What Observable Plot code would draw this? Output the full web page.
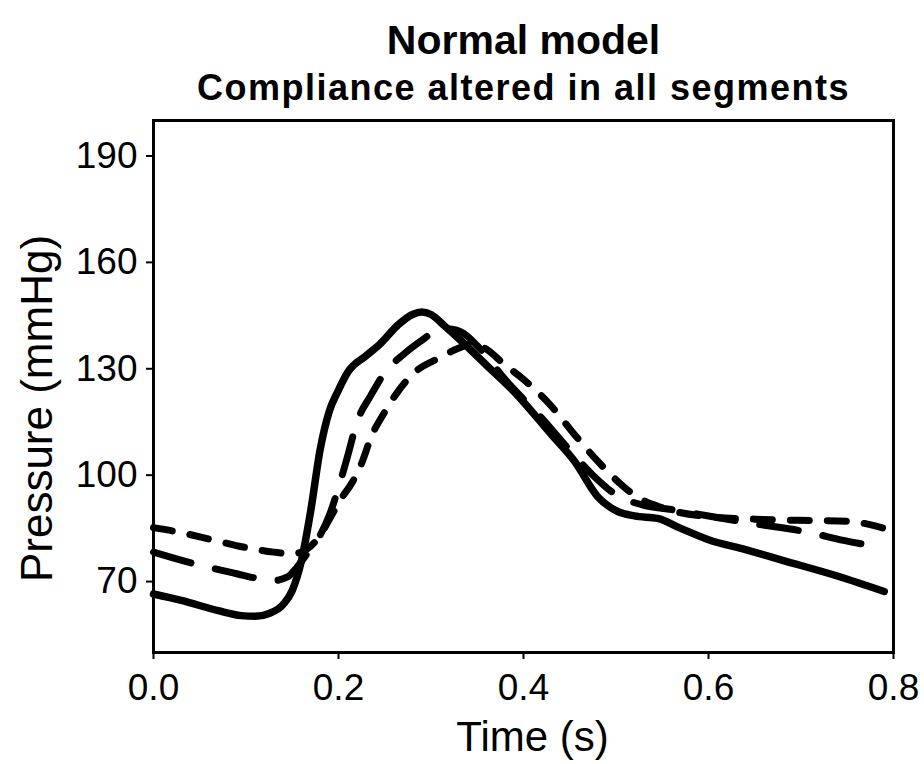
<!DOCTYPE html>
<html><head><meta charset="utf-8">
<script src="https://cdn.jsdelivr.net/npm/d3@7"></script>
<script src="https://cdn.jsdelivr.net/npm/@observablehq/plot@0.6"></script>
<style>body{margin:0;background:#fff;} #chart svg{display:block;}</style>
</head><body><div id="chart"></div>
<script>
const title = "Normal model";
const subtitle = "Compliance altered in all segments";
const xLabel = "Time (s)";
const yLabel = "Pressure (mmHg)";
const xTicks = [0, 0.2, 0.4, 0.6, 0.8];
const yTicks = [70, 100, 130, 160, 190];

// Solid line
const solidT = [0, 0.03, 0.07, 0.095, 0.11, 0.125, 0.14, 0.15, 0.16, 0.17, 0.18, 0.19, 0.2, 0.21, 0.23, 0.245, 0.265, 0.28, 0.29, 0.3, 0.315, 0.33, 0.36, 0.39, 0.43, 0.455, 0.48, 0.5, 0.52, 0.545, 0.57, 0.6, 0.64, 0.68, 0.74, 0.79];
const solidP = [66.5, 64.7, 61.8, 60.4, 60.2, 61.0, 63.5, 67.5, 76, 90, 107, 118, 124, 129, 133.7, 137, 142.5, 145.3, 146, 145.3, 142, 138.5, 131, 123.5, 111.5, 104, 94, 90, 88.5, 87.8, 85, 81.8, 79, 76, 71.5, 67.2];

// Long-dashed line
const longT = [0, 0.043, 0.065, 0.09, 0.112, 0.13, 0.145, 0.155, 0.165, 0.18, 0.19, 0.2, 0.21, 0.22, 0.235, 0.25, 0.27, 0.29, 0.307, 0.32, 0.335, 0.35, 0.38, 0.42, 0.45, 0.475, 0.5, 0.53, 0.56, 0.6, 0.65, 0.71, 0.746, 0.79];
const longP = [78.3, 75.1, 73.7, 72.2, 70.9, 70.3, 71.3, 74, 77.5, 83, 88.6, 96.5, 105.5, 115, 122.5, 128.9, 134, 138, 140.8, 141.2, 140, 136.5, 127, 116, 107, 100, 94.5, 91.5, 90.3, 88.5, 86.3, 83.8, 81.6, 79.6];

// Short-dashed line
const shortT = [0, 0.03, 0.06, 0.1, 0.13, 0.15, 0.165, 0.18, 0.19, 0.202, 0.216, 0.226, 0.235, 0.249, 0.264, 0.281, 0.31, 0.329, 0.345, 0.36, 0.378, 0.4, 0.43, 0.455, 0.48, 0.505, 0.525, 0.55, 0.6, 0.65, 0.71, 0.75, 0.79];
const shortP = [85.2, 83.8, 82.0, 79.6, 78.3, 77.8, 79, 83, 87.5, 93, 98.5, 104, 110.6, 117.4, 123.5, 128.7, 133.2, 135.7, 137, 135.5, 131.5, 127, 119.5, 111.5, 104, 97.5, 93.5, 90.8, 88.3, 87.6, 87.2, 87, 85];

const rows = (t, p) => t.map((d, i) => ({t: d, p: p[i]}));
const font = "'Liberation Sans', Arial, sans-serif";

const chart = Plot.plot({
  width: 924, height: 764,
  marginTop: 120, marginBottom: 112, marginLeft: 153, marginRight: 31,
  style: {fontFamily: font, background: "white", color: "black"},
  x: {domain: [0, 0.8]},
  y: {domain: [50, 200]},
  marks: [
    Plot.line(rows(solidT, solidP), {x: "t", y: "p", stroke: "black", strokeWidth: 7.5, curve: "monotone-x", strokeLinejoin: "round", strokeLinecap: "round"}),
    Plot.line(rows(longT, longP), {x: "t", y: "p", stroke: "black", strokeWidth: 7, curve: "monotone-x", strokeDasharray: "39,25", strokeLinecap: "round"}),
    Plot.line(rows(shortT, shortP), {x: "t", y: "p", stroke: "black", strokeWidth: 7, curve: "monotone-x", strokeDasharray: "19,18", strokeLinecap: "round"}),
    Plot.frame({stroke: "black", strokeWidth: 3}),
    Plot.axisX({ticks: xTicks, tickFormat: d3.format(".1f"), tickSize: 7, tickPadding: 14, fontSize: 37, strokeWidth: 2, label: null}),
    Plot.axisY({ticks: yTicks, tickSize: 7, tickPadding: 9, fontSize: 37, strokeWidth: 2, label: null}),
    Plot.text([xLabel], {text: d => d, frameAnchor: "bottom", dx: 9, dy: 98, lineAnchor: "bottom", fontSize: 42}),
    Plot.text([yLabel], {text: d => d, frameAnchor: "left", textAnchor: "middle", dx: -102, dy: 22, rotate: -90, lineAnchor: "bottom", fontSize: 44}),
    Plot.text([title], {text: d => d, frameAnchor: "top", dy: -67, lineAnchor: "bottom", fontSize: 41, fontWeight: "bold"}),
    Plot.text([subtitle], {text: d => d, frameAnchor: "top", dy: -21, lineAnchor: "bottom", fontSize: 36, fontWeight: "bold"})
  ]
});
// slightly widen the subtitle's tracking as in the reference
d3.select(chart).selectAll("text").filter(function() { return this.textContent === subtitle; })
  .style("letter-spacing", "1.5px");
document.getElementById("chart").appendChild(chart);
</script>
</body></html>
